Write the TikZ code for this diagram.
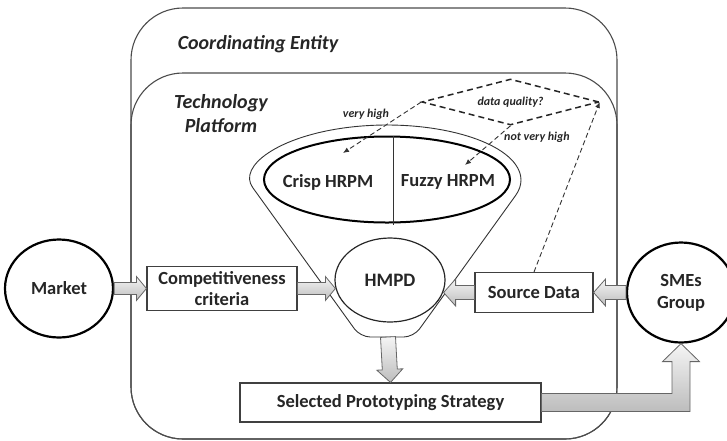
\documentclass[tikz,border=0pt]{standalone}
\usepackage{fontspec}
\setmainfont{Carlito}
\usetikzlibrary{shapes.geometric,calc,arrows.meta}

% Block arrow from tail #1 to tip #2: body half width #3, head half width #4, head length #5
\newcommand{\blockarrow}[5]{%
  \coordinate (ba-c) at ($#2!#5!#1$);
  \path[arrowfill] ($#1!#3!90:#2$) -- ($(ba-c)!#3!90:#2$) -- ($(ba-c)!#4!90:#2$) -- #2
    -- ($(ba-c)!#4!-90:#2$) -- ($(ba-c)!#3!-90:#2$) -- ($#1!#3!-90:#2$) -- cycle;
}

\begin{document}
\begin{tikzpicture}[x=1pt,y=-1pt,
  every node/.style={text=black!85},
  areaframe/.style={draw=black!70, line width=1.1pt, rounded corners=52pt},
  areatitle/.style={font=\bfseries\itshape\fontsize{20}{24}\selectfont, align=center},
  bigcircle/.style={ellipse, draw=black, line width=2.2pt, fill=white, inner sep=0pt,
    minimum width=108pt, minimum height=98pt, align=center,
    font=\bfseries\fontsize{18.5}{22}\selectfont},
  procbox/.style={rectangle, draw=black!75, line width=1.1pt, fill=white, inner sep=0pt,
    align=center, font=\bfseries\fontsize{18.5}{21}\selectfont},
  funnelline/.style={draw=black!80, line width=0.9pt},
  arrowfill/.style={draw=black!60, line width=0.8pt, top color=gray!8, bottom color=gray!52},
  decision/.style={diamond, draw=black!85, line width=1.5pt, dash pattern=on 6pt off 4pt,
    aspect=3.85, inner sep=0pt, minimum width=177pt, minimum height=46pt,
    font=\bfseries\itshape\fontsize{12}{14}\selectfont},
  flow/.style={draw=black!80, line width=0.9pt, dash pattern=on 5pt off 3pt,
    -{Latex[length=6pt,width=5pt]}},
  choice/.style={font=\bfseries\itshape\fontsize{12}{14}\selectfont},
  modeltext/.style={font=\bfseries\fontsize{18.5}{22}\selectfont}]

\useasboundingbox (0,0) rectangle (727,440);

% nested areas: coordinating entity and technology platform
\draw[areaframe] (131,8) rectangle (617,439);
\draw[areaframe] (131,73) rectangle (617,439);
\node[areatitle] (ce) at (258,44) {Coordinating Entity};
\node[areatitle] (tp) at (221,114) {Technology\\Platform};

% funnel holding the two HRPM models
\draw[funnelline] (515.5,195.6) [rounded corners=10pt] -- (413.7,337) -- (360.3,337)
  -- (258.5,195.6) [sharp corners]
  arc[start angle=163.54, end angle=376.46, x radius=134, y radius=55];
\coordinate (fb) at (388,337);

\node[ellipse, draw=black, line width=2pt, fill=white, inner sep=0pt,
  minimum width=246pt, minimum height=86pt] (hrpm) at (387,179.5) {};
\draw[funnelline] ($(hrpm.north)+(6,0)$) -- ($(hrpm.south)+(6,1)$);
\node[modeltext] (crisp) at (328,182) {Crisp HRPM};
\node[modeltext] (fuzzy) at (448,182) {Fuzzy HRPM};

% main process nodes
\node[bigcircle] (market) at (59,288.5) {Market};
\node[procbox, minimum width=150pt, minimum height=44pt] (comp) at (222,288.5)
  {Competitiveness\\criteria};
\node[ellipse, draw=black!85, line width=1.2pt, fill=white, inner sep=0pt,
  minimum width=110pt, minimum height=84pt, font=\bfseries\fontsize{19}{22}\selectfont]
  (hmpd) at (390,280) {HMPD};
\node[procbox, minimum width=118pt, minimum height=40pt] (src) at (534,292.5) {Source Data};
\node[bigcircle, minimum height=100pt] (sme) at (681,292.5) {SMEs\\Group};
\node[procbox, minimum width=301pt, minimum height=39pt] (sel) at (390.5,402.5)
  {Selected Prototyping Strategy};

% block arrows
\coordinate (t1) at ($(comp.east -| hmpd.west)+(1,0)$);
\coordinate (t2) at ($(src.west -| hmpd.east)+(-2,0)$);
\blockarrow{(market.east)}{(comp.west)}{6pt}{12pt}{10pt}
\blockarrow{(comp.east)}{(t1)}{6pt}{12pt}{10pt}
\blockarrow{(src.west)}{(t2)}{7pt}{13.5pt}{12pt}
\blockarrow{(sme.west)}{(src.east)}{7pt}{13.5pt}{12pt}
\blockarrow{(fb)}{(sel.north)}{7.5pt}{13pt}{13pt}
\path[arrowfill] let \p1=(sel.east), \p2=(sme.south) in
  (\x1,\y1+9pt) -- (\x2-9pt,\y1+9pt) -- (\x2-9pt,\y2-18pt) -- (\x2-18.5pt,\y2-18pt)
  -- (\p2) -- (\x2+18.5pt,\y2-18pt) -- (\x2+9pt,\y2-18pt) -- (\x2+9pt,\y1-9pt)
  -- (\x1,\y1-9pt) -- cycle;

% data quality decision
\node[decision] (dq) at (510.5,102) {data quality?};
\coordinate (tipC) at (343,153);
\coordinate (tipF) at (465,165);
\draw[flow] (src.north) -- (dq.east);
\draw[flow] (dq.west) -- (tipC);
\draw[flow] (dq.south) -- (tipF);
\node[choice] (vh) at (366,114) {very high};
\node[choice] (nvh) at (537,137) {not very high};
\end{tikzpicture}
\end{document}
